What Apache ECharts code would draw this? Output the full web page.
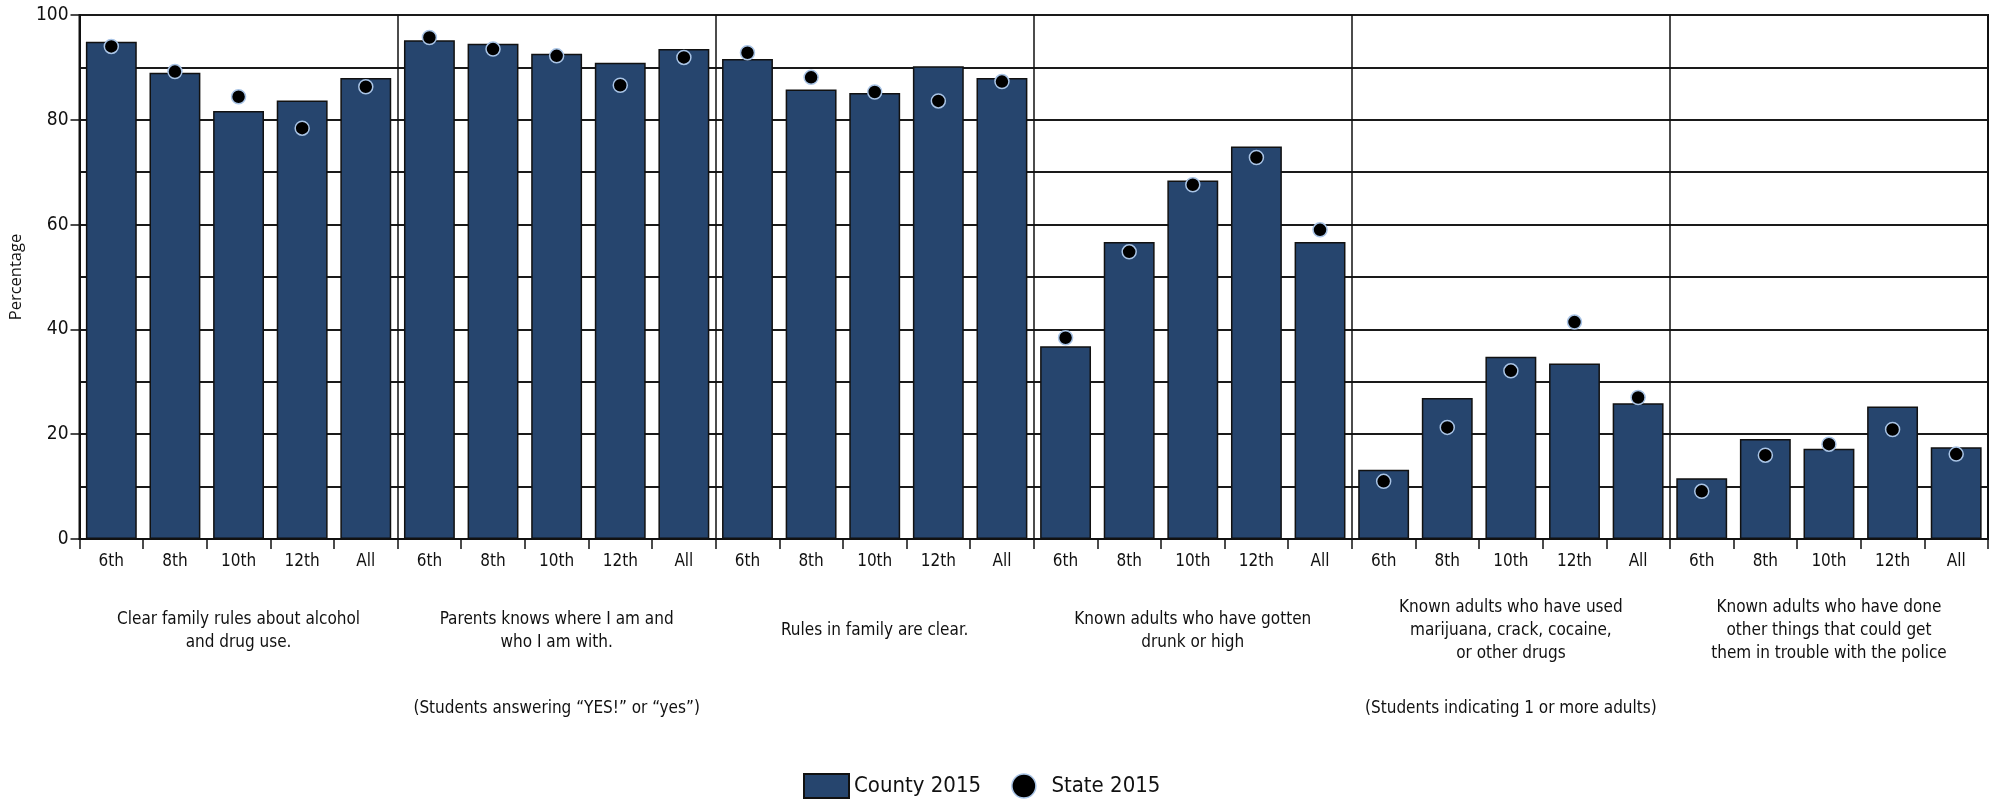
<!DOCTYPE html>
<html>
<head>
<meta charset="utf-8">
<script src="https://cdn.jsdelivr.net/npm/echarts@6/dist/echarts.min.js"></script>
<style>
html,body{margin:0;padding:0;background:#fff;}
#chart{width:1999px;height:801px;}
</style>
</head>
<body>
<div id="chart"></div>
<script>
const grades = ["6th", "8th", "10th", "12th", "All"];
const groupLabels = [
  "Clear family rules about alcohol\nand drug use.",
  "Parents knows where I am and\nwho I am with.",
  "Rules in family are clear.",
  "Known adults who have gotten\ndrunk or high",
  "Known adults who have used\nmarijuana, crack, cocaine,\nor other drugs",
  "Known adults who have done\nother things that could get\nthem in trouble with the police"
];
const subtitles = [
  "(Students answering \u201cYES!\u201d or \u201cyes\u201d)",
  "(Students indicating 1 or more adults)"
];
const county2015 = [
  94.9, 89.0, 81.7, 83.7, 88.0,
  95.2, 94.5, 92.6, 90.9, 93.5,
  91.6, 85.8, 85.1, 90.2, 88.0,
  36.8, 56.7, 68.4, 74.9, 56.7,
  13.2, 26.9, 34.8, 33.5, 25.9,
  11.6, 19.1, 17.2, 25.3, 17.5
];
const state2015 = [
  94.0, 89.2, 84.4, 78.4, 86.3,
  95.7, 93.5, 92.2, 86.6, 91.9,
  92.8, 88.1, 85.3, 83.6, 87.3,
  38.4, 54.8, 67.6, 72.8, 59.0,
  11.0, 21.3, 32.1, 41.4, 27.0,
  9.1, 16.0, 18.1, 20.9, 16.2
];
const yTicks = [0, 20, 40, 60, 80, 100];

// build category keys (unique) from groups x grades
const categories = [];
groupLabels.forEach((g, gi) => grades.forEach(gr => categories.push(gr + "|" + gi)));

const FONT = "'Liberation Sans Narrow', 'DejaVu Sans Condensed', 'Arial Narrow', sans-serif";
const chart = echarts.init(document.getElementById('chart'), null, {renderer: 'canvas'});
chart.setOption({
  backgroundColor: '#ffffff',
  animation: false,
  textStyle: {fontFamily: FONT, color: '#111'},
  grid: {left: 75, right: 11, top: 15, bottom: 262, show: true, borderColor: '#111', borderWidth: 2, backgroundColor: 'transparent'},
  legend: {
    left: 798, top: 768,
    itemWidth: 45, itemHeight: 24, itemGap: 30,
    textStyle: {fontFamily: FONT, fontSize: 22, color: '#111'},
    data: [
      {name: 'County 2015', icon: 'rect', itemStyle: {color: '#26456e', borderColor: '#111', borderWidth: 2}},
      {name: 'State 2015', icon: 'circle', itemStyle: {color: '#000', borderColor: '#a9c4e6', borderWidth: 1.5}}
    ]
  },
  xAxis: [
    {
      type: 'category', data: categories, position: 'bottom',
      axisLine: {show: true, lineStyle: {color: '#111', width: 2}},
      axisTick: {show: true, interval: 0, length: 10, lineStyle: {color: '#111', width: 1.5}},
      axisLabel: {interval: 0, margin: 23, verticalAlign: 'middle', fontFamily: FONT, fontSize: 17, color: '#111',
        formatter: v => v.split('|')[0]},
      splitLine: {show: false}
    },
    {
      type: 'category', data: groupLabels, position: 'bottom',
      axisLine: {show: false}, axisTick: {show: false},
      axisLabel: {interval: 0, margin: 92, verticalAlign: 'middle', lineHeight: 23, fontFamily: FONT, fontSize: 17, color: '#111', align: 'center'},
      splitLine: {show: true, interval: 0, lineStyle: {color: '#111', width: 1.5}}
    },
    {
      type: 'category', data: subtitles, position: 'bottom',
      axisLine: {show: false}, axisTick: {show: false},
      axisLabel: {interval: 0, margin: 170, verticalAlign: 'middle', fontFamily: FONT, fontSize: 17, color: '#111'},
      splitLine: {show: false}
    }
  ],
  yAxis: {
    type: 'value', min: yTicks[0], max: yTicks[yTicks.length - 1], interval: 20,
    name: 'Percentage', nameLocation: 'middle', nameGap: 50,
    nameTextStyle: {fontFamily: "'Open Sans', 'Noto Sans', sans-serif", fontSize: 16.5, color: '#111'},
    axisLine: {show: true, lineStyle: {color: '#111', width: 2}},
    axisTick: {show: true, length: 9, lineStyle: {color: '#111', width: 1.5}},
    axisLabel: {margin: 11, fontFamily: FONT, fontSize: 19, color: '#111'},
    splitLine: {show: true, lineStyle: {color: '#1a1a1a', width: 2}},
    minorTick: {show: false, splitNumber: 2},
    minorSplitLine: {show: true, lineStyle: {color: '#1a1a1a', width: 2}}
  },
  series: [
    {
      name: 'County 2015', type: 'bar', xAxisIndex: 0, data: county2015,
      barCategoryGap: '20%',
      itemStyle: {color: '#26456e', borderColor: '#111', borderWidth: 1.5},
      z: 3
    },
    {
      name: 'State 2015', type: 'scatter', xAxisIndex: 0, data: state2015,
      symbol: 'circle', symbolSize: 14,
      itemStyle: {color: '#000', borderColor: '#a9c4e6', borderWidth: 1.5, opacity: 1},
      z: 5
    }
  ]
});
</script>
</body>
</html>
